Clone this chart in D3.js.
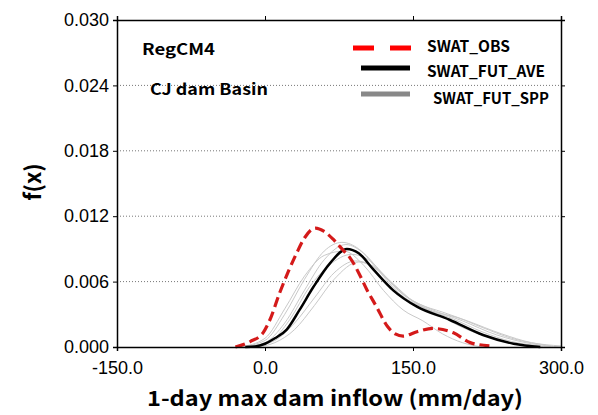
<!DOCTYPE html>
<html><head><meta charset="utf-8">
<script src="https://cdn.jsdelivr.net/npm/d3@7"></script>
<style>body{margin:0;background:#fff}svg{display:block}</style>
</head><body>
<script>
const xTicks = [-150, 0, 150, 300];
const yTicks = [0, 0.006, 0.012, 0.018, 0.024, 0.030];
const legendLabels = ["SWAT_OBS", "SWAT_FUT_AVE", "SWAT_FUT_SPP"];

const obsX = [-30, -15, -2, 5, 15, 24, 32, 40, 51, 60, 70, 80, 86, 95, 103, 113, 124, 132, 140, 154, 170, 191, 208, 228];
const obsY = [0, 0.0005, 0.0013, 0.0025, 0.0050, 0.0070, 0.0086, 0.0100, 0.0109, 0.0106, 0.0098, 0.0088, 0.0082, 0.0068, 0.0053, 0.0037, 0.0019, 0.0012, 0.0010, 0.0014, 0.0017, 0.0013, 0.0004, 0.0001];

const aveX = [-20, -10, 0, 10, 22, 35, 49, 66, 83, 95, 110, 130, 154, 187, 221, 252, 279];
const aveY = [0, 0.00005, 0.0003, 0.0008, 0.0016, 0.0034, 0.0055, 0.0077, 0.0090, 0.0086, 0.0071, 0.0052, 0.0037, 0.0025, 0.0011, 0.0003, 0];

const sppX = [
  [-25, 0, 20, 40, 60, 78, 95, 115, 135, 160, 190, 220, 250, 280],
  [-20, 0, 20, 40, 60, 82, 100, 120, 140, 165, 200, 235, 270, 300],
  [-15, 10, 30, 50, 70, 92, 110, 130, 150, 175, 200, 230, 260, 290],
  [-10, 10, 30, 50, 70, 95, 115, 135, 155, 180, 205, 240, 270, 300],
  [-25, 0, 20, 40, 60, 80, 100, 120, 140, 160, 180, 200, 220],
  [-20, 5, 25, 45, 65, 88, 105, 125, 145, 170, 195, 220, 250, 290]
];
const sppY = [
  [0, 0.0006, 0.0030, 0.0062, 0.0088, 0.0096, 0.0090, 0.0070, 0.0050, 0.0036, 0.0026, 0.0014, 0.0005, 0.0001],
  [0, 0.0004, 0.0022, 0.0052, 0.0080, 0.0094, 0.0086, 0.0066, 0.0048, 0.0036, 0.0024, 0.0011, 0.0003, 0],
  [0, 0.0006, 0.0022, 0.0045, 0.0068, 0.0079, 0.0074, 0.0058, 0.0042, 0.0030, 0.0018, 0.0008, 0.0002, 0],
  [0, 0.0004, 0.0016, 0.0038, 0.0062, 0.0078, 0.0070, 0.0052, 0.0040, 0.0032, 0.0024, 0.0012, 0.0004, 0.0001],
  [0, 0.0008, 0.0035, 0.0065, 0.0084, 0.0088, 0.0075, 0.0052, 0.0034, 0.0024, 0.0012, 0.0004, 0],
  [0, 0.0005, 0.0025, 0.0055, 0.0075, 0.0085, 0.0080, 0.0062, 0.0045, 0.0033, 0.0027, 0.0018, 0.0008, 0.0001]
];

const W = 598, H = 415;
const m = {left: 117, right: 37, top: 20, bottom: 68};
const svg = d3.select("body").append("svg").attr("width", W).attr("height", H);
const x = d3.scaleLinear().domain([-150, 300]).range([m.left, W - m.right]);
const y = d3.scaleLinear().domain([0, 0.030]).range([H - m.bottom, m.top]);

// grid
svg.append("g").selectAll("line").data(yTicks.filter(d => d > 0 && d < 0.030)).join("line")
  .attr("x1", x(-150)).attr("x2", x(300)).attr("y1", d => y(d)).attr("y2", d => y(d))
  .attr("stroke", "#777").attr("stroke-width", 1).attr("stroke-dasharray", "1,2");

const line = d3.line().x(d => x(d[0])).y(d => y(d[1])).curve(d3.curveMonotoneX);
const g = svg.append("g");
sppX.forEach((xs, i) => {
  g.append("path").attr("d", line(xs.map((v, j) => [v, sppY[i][j]])))
    .attr("fill", "none").attr("stroke", "#c9c9c9").attr("stroke-width", 1);
});
g.append("path").attr("d", line(aveX.map((v, j) => [v, aveY[j]])))
  .attr("fill", "none").attr("stroke", "#000").attr("stroke-width", 2.5);
g.append("path").attr("d", line(obsX.map((v, j) => [v, obsY[j]])))
  .attr("fill", "none").attr("stroke", "#d41a1a").attr("stroke-width", 3.2)
  .attr("stroke-dasharray", "10,5");

// axes
const fx = d => d.toFixed(1);
const fy = d => d.toFixed(3);
const axL = svg.append("g").attr("transform", `translate(${m.left},0)`)
  .call(d3.axisLeft(y).tickValues(yTicks).tickFormat(fy).tickSize(4).tickPadding(4));
const axB = svg.append("g").attr("transform", `translate(0,${H - m.bottom})`)
  .call(d3.axisBottom(x).tickValues(xTicks).tickFormat(fx).tickSize(4).tickPadding(10));
const axT = svg.append("g").attr("transform", `translate(0,${m.top})`)
  .call(d3.axisTop(x).tickValues(xTicks).tickFormat("").tickSize(4));
const axR = svg.append("g").attr("transform", `translate(${W - m.right},0)`)
  .call(d3.axisRight(y).tickValues(yTicks).tickFormat("").tickSize(4));
[axL, axB, axT, axR].forEach(a => {
  a.select(".domain").attr("stroke", "#000").attr("stroke-width", 1.5);
  a.selectAll(".tick line").attr("stroke", "#000").attr("stroke-width", 1);
  a.selectAll("text").attr("font-family", "Liberation Sans, Arial, sans-serif").attr("font-size", 18).attr("fill", "#000");
});

const lblFont = "Noto Sans CJK KR, Noto Sans, sans-serif";
// titles
svg.append("text").attr("x", 147).attr("y", 406)
  .attr("font-family", lblFont).attr("font-weight", "bold").attr("font-size", 21)
  .attr("textLength", 376).attr("lengthAdjust", "spacingAndGlyphs")
  .text("1-day max dam inflow (mm/day)");
svg.append("text").attr("transform", "translate(41,182) rotate(-90)").attr("text-anchor", "middle")
  .attr("font-family", lblFont).attr("font-weight", "bold").attr("font-size", 22)
  .text("f(x)");

function label(t, xx, yy, len) {
  svg.append("text").attr("x", xx).attr("y", yy).attr("font-family", lblFont)
    .attr("font-weight", "bold").attr("font-size", 15.5)
    .attr("textLength", len).attr("lengthAdjust", "spacingAndGlyphs").text(t);
}
label("RegCM4", 142, 55, 73);
label("CJ dam Basin", 150, 95, 118);

// legend
const lg = svg.append("g");
lg.append("line").attr("x1", 353).attr("x2", 411).attr("y1", 48).attr("y2", 48)
  .attr("stroke", "#ff0000").attr("stroke-width", 5).attr("stroke-dasharray", "21,16");
lg.append("line").attr("x1", 361).attr("x2", 410).attr("y1", 68).attr("y2", 68)
  .attr("stroke", "#000").attr("stroke-width", 5);
lg.append("line").attr("x1", 361).attr("x2", 410).attr("y1", 94).attr("y2", 94)
  .attr("stroke", "#888").attr("stroke-width", 5);
const lx = [427, 427, 433], ly = [52, 77, 104], lw = [83, 118, 116];
legendLabels.forEach((t, i) => label(t, lx[i], ly[i], lw[i]));
</script>
</body></html>
